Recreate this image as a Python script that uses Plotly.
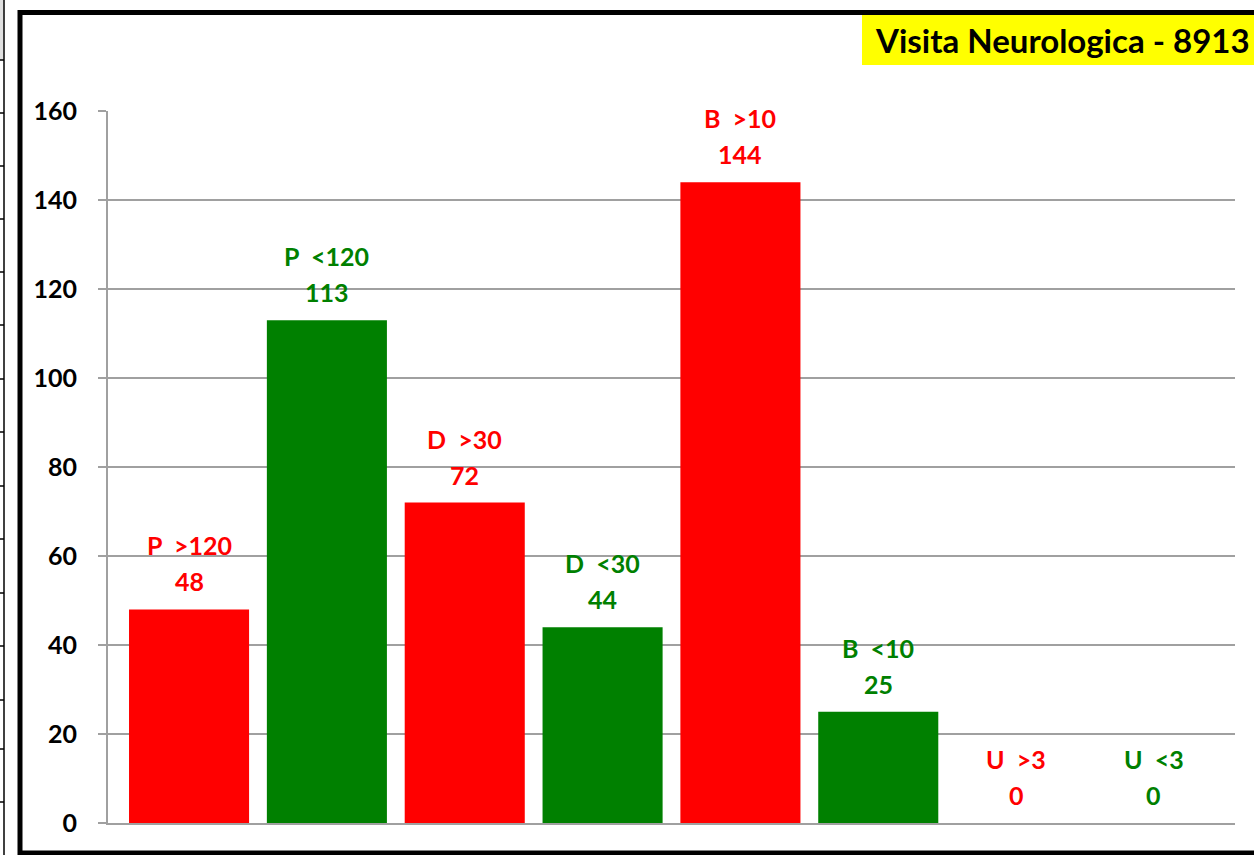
import plotly.graph_objects as go

categories = ["P  >120", "P  <120", "D  >30", "D  <30", "B  >10", "B  <10", "U  >3", "U  <3"]
values = [48, 113, 72, 44, 144, 25, 0, 0]
bar_colors = ["#FF0000", "#008000", "#FF0000", "#008000", "#FF0000", "#008000", "#FF0000", "#008000"]
y_ticks = [0, 20, 40, 60, 80, 100, 120, 140, 160]
title_text = "Visita Neurologica - 8913"

W, H = 1254, 855
L, R, T, B = 108, 19, 111, 32
pw, ph = W - L - R, H - T - B

def px(x):
    return (x - L) / pw

def py(y):
    return (H - B - y) / ph

FONT = "Lato"

fig = go.Figure()
fig.add_trace(go.Bar(
    x=list(range(len(categories))), y=values,
    marker=dict(color=bar_colors, line=dict(width=0)),
    hoverinfo="skip",
))

annotations = []
for i, (c, v, col) in enumerate(zip(categories, values, bar_colors)):
    annotations.append(dict(x=i, y=v, xref="x", yref="y", text=str(v), showarrow=False,
                            yanchor="middle", yshift=28,
                            font=dict(family=FONT, size=25, color=col, weight="bold")))
    annotations.append(dict(x=i, y=v, xref="x", yref="y", text=c.replace("  ", "&nbsp; "), showarrow=False,
                            yanchor="middle", yshift=64,
                            font=dict(family=FONT, size=25, color=col, weight="bold")))

annotations.append(dict(x=px(873), y=py(40), xref="paper", yref="paper", text=title_text,
                        showarrow=False, xanchor="left", yanchor="middle",
                        font=dict(family=FONT, size=33, color="black", weight="bold")))

shapes = [
    # yellow title box
    dict(type="rect", xref="paper", yref="paper", x0=px(862), x1=px(1270), y0=py(65), y1=py(15),
         fillcolor="#FFFF00", line=dict(width=0), layer="below"),
    # outer chart border
    dict(type="rect", xref="paper", yref="paper", x0=px(20), x1=px(1275), y0=py(853), y1=py(12.5),
         line=dict(color="black", width=5), fillcolor="rgba(0,0,0,0)"),
    # spreadsheet remnants on the left
    dict(type="rect", xref="paper", yref="paper", x0=px(0), x1=px(3.5), y0=py(60), y1=py(0),
         fillcolor="#E0E0E0", line=dict(width=0)),
    dict(type="line", xref="paper", yref="paper", x0=px(4), x1=px(4), y0=py(855), y1=py(0),
         line=dict(color="black", width=1.5)),
]
for yy in [60, 113, 166, 219, 272, 325, 379, 432, 486, 539, 593, 646, 700, 749, 802]:
    shapes.append(dict(type="line", xref="paper", yref="paper", x0=px(0), x1=px(4), y0=py(yy), y1=py(yy),
                       line=dict(color="black", width=1.5)))

fig.update_layout(
    width=W, height=H,
    margin=dict(l=L, r=R, t=T, b=B, pad=0),
    paper_bgcolor="white", plot_bgcolor="white",
    showlegend=False,
    bargap=0.129,
    annotations=annotations,
    shapes=shapes,
    xaxis=dict(range=[-0.588, 7.588], showticklabels=False, ticks="", showgrid=False,
               zeroline=False, showline=True, linecolor="#A0A0A0", linewidth=2, fixedrange=True),
    yaxis=dict(range=[0, 160], tickvals=y_ticks, ticks="outside", ticklen=8, tickwidth=2,
               tickcolor="#A0A0A0", showline=True, linecolor="#A0A0A0", linewidth=2,
               showgrid=True, gridcolor="#A0A0A0", gridwidth=1.5, zeroline=False,
               ticklabelstandoff=16,
               tickfont=dict(family=FONT, size=25, color="black", weight="bold"), fixedrange=True),
)

fig.write_html("out.html", config={"displayModeBar": False},
               post_script="document.body.style.margin='0';document.body.style.overflow='hidden';")
